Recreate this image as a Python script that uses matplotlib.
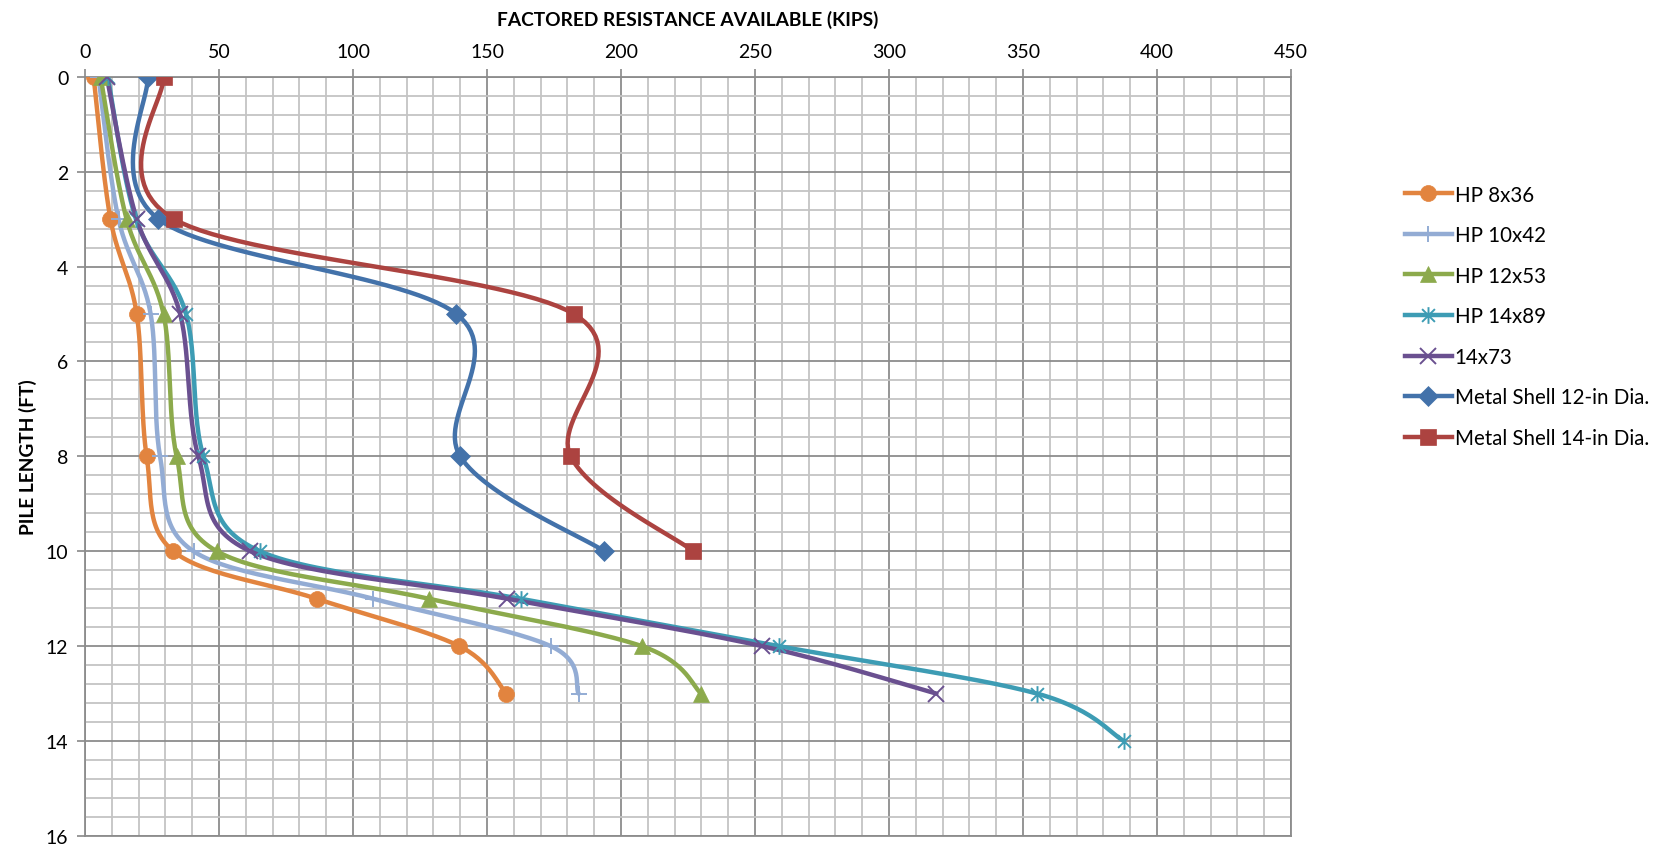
import matplotlib
matplotlib.use('Agg')
import matplotlib.pyplot as plt
from matplotlib.path import Path
import numpy as np

plt.rcParams['font.family'] = ['Lato', 'DejaVu Sans']

# Pile length (ft) at each reading
length_long = [0, 3, 5, 8, 10, 11, 12, 13, 14]
length_hp = [0, 3, 5, 8, 10, 11, 12, 13]
length_shell = [0, 3, 5, 8, 10]

# Factored resistance available (kips)
hp_8x36 = [3.2, 9.5, 19.3, 23.0, 33.0, 86.4, 139.7, 157.2]
hp_10x42 = [5.0, 12.5, 24.5, 28.0, 40.5, 107.5, 173.8, 184.2]
hp_12x53 = [5.8, 15.5, 29.3, 34.2, 49.2, 128.3, 207.8, 230.0]
hp_14x89 = [8.5, 19.0, 37.7, 44.2, 65.3, 162.5, 259.0, 355.3, 387.7]
hp_14x73 = [8.1, 19.3, 35.5, 42.3, 61.7, 157.5, 252.7, 317.7]
shell_12 = [23.4, 27.4, 138.6, 140.0, 193.8]
shell_14 = [29.3, 33.2, 182.4, 181.2, 227.0]

names = ['HP 8x36', 'HP 10x42', 'HP 12x53', 'HP 14x89', '14x73',
         'Metal Shell 12-in Dia.', 'Metal Shell 14-in Dia.']
colors = ['#E2843F', '#93ACD4', '#8CAA4C', '#3D9CB4', '#6A5090', '#4372AA', '#AC4340']

# Excel-style asterisk: an X plus a vertical bar
star = Path([(-1, -1), (1, 1), (-1, 1), (1, -1), (0, -1.3), (0, 1.3)],
            [Path.MOVETO, Path.LINETO, Path.MOVETO, Path.LINETO, Path.MOVETO, Path.LINETO])
markers = ['o', '+', '^', star, 'x', 'D', 's']
msizes = [11.5, 12, 11.5, 12, 12, 10, 12]


def smooth(xs, ys, n=30):
    """Catmull-Rom style bezier smoothing through every point."""
    p = np.column_stack([xs, ys]).astype(float)
    p = np.vstack([p[0], p, p[-1]])
    out = []
    t = np.linspace(0, 1, n)[:, None]
    for i in range(1, len(p) - 2):
        p0, p3 = p[i], p[i + 1]
        p1 = p0 + (p[i + 1] - p[i - 1]) / 6
        p2 = p3 - (p[i + 2] - p[i]) / 6
        seg = ((1 - t) ** 3 * p0 + 3 * (1 - t) ** 2 * t * p1
               + 3 * (1 - t) * t ** 2 * p2 + t ** 3 * p3)
        out.append(seg if i == 1 else seg[1:])
    seg = np.vstack(out)
    return seg[:, 0], seg[:, 1]


series = [(hp_8x36, length_hp), (hp_10x42, length_hp), (hp_12x53, length_hp),
          (hp_14x89, length_long), (hp_14x73, length_hp),
          (shell_12, length_shell), (shell_14, length_shell)]

fig = plt.figure(figsize=(16.6, 8.45), dpi=100)
ax = fig.add_axes([85 / 1660, 1 - 837 / 845, (1291 - 85) / 1660, (837 - 77.7) / 845])

for (xv, yv), name, c, m, ms in zip(series, names, colors, markers, msizes):
    sx, sy = smooth(xv, yv)
    ax.plot(sx, sy, color=c, lw=3.2, solid_capstyle='round', zorder=3)
    filled = m in ('o', '^', 'D', 's')
    mew = 0.5 if filled else 1.4
    ax.plot(xv, yv, ls='none', marker=m, ms=ms, color=c, mec=c, mew=mew, zorder=4)
    ax.plot([], [], color=c, lw=3.2, marker=m, ms=ms, mew=mew, label=name)

ax.set_xlim(0, 450)
ax.set_ylim(16, 0)
ax.set_xticks(np.arange(0, 451, 50))
ax.set_yticks(np.arange(0, 17, 2))
ax.set_xticks(np.arange(0, 451, 10), minor=True)
ax.set_yticks(np.arange(0, 16.01, 0.4), minor=True)
ax.xaxis.tick_top()
ax.xaxis.set_label_position('top')
ax.tick_params(which='major', length=6, width=1.2, color='#888888', labelsize=14, pad=6)
ax.tick_params(which='minor', length=0)
ax.grid(which='major', color='#8C8C8C', lw=1.3, zorder=1)
ax.grid(which='minor', color='#C4C4C4', lw=1.3, zorder=0)
for sp in ax.spines.values():
    sp.set_color('#8C8C8C')
    sp.set_linewidth(1.3)

ax.set_xlabel('FACTORED RESISTANCE AVAILABLE (KIPS)', fontsize=13.8, fontweight='bold', labelpad=13)
ax.set_ylabel('PILE LENGTH (FT)', fontsize=13.8, fontweight='bold', labelpad=6)

fig.legend(loc='upper left', bbox_to_anchor=(1386 / 1660, 1 - 167 / 845), frameon=False,
           fontsize=14.8, handlelength=2.3, handletextpad=0.15, labelspacing=1.0)

fig.savefig('out.png', dpi=100)
plt.close(fig)
